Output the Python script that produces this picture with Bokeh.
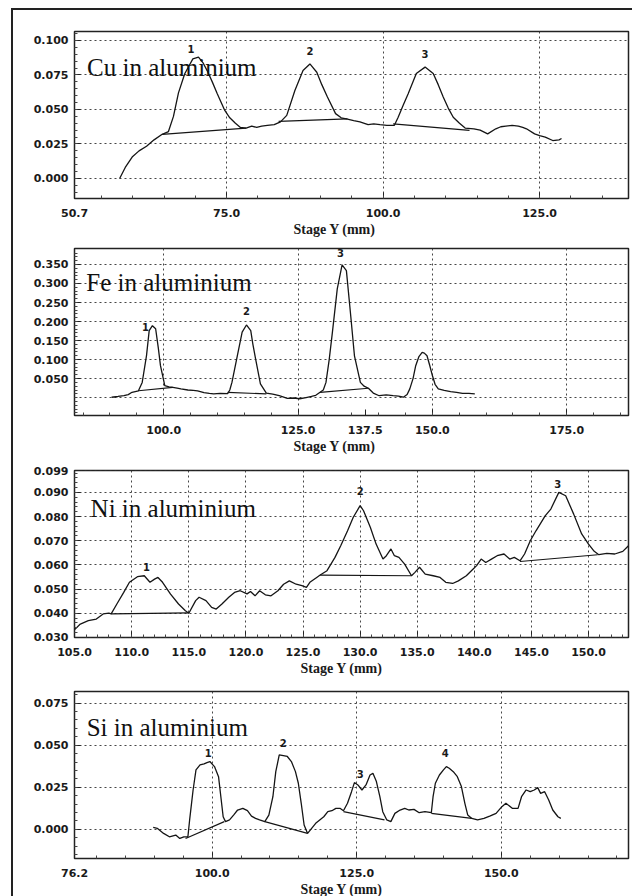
import numpy as np
from bokeh.plotting import figure
from bokeh.models import Range1d, FixedTicker, NumeralTickFormatter, Label, Title
from bokeh.layouts import column
from bokeh.embed import file_html
from bokeh.resources import INLINE
from bokeh.core.properties import value

# ---------------- data ----------------
# Cu in aluminium
cu_pts = [(57.9, 0.000), (58.8, 0.008), (59.9, 0.0155), (61.0, 0.020), (62.2, 0.0234), (63.4, 0.028),
          (64.7, 0.032), (65.7, 0.034), (66.5, 0.045), (67.3, 0.062), (68.3, 0.0759), (69.6, 0.0867),
          (70.5, 0.088), (71.2, 0.084), (71.9, 0.078), (72.7, 0.070), (73.5, 0.0614), (74.7, 0.0493),
          (75.5, 0.044), (76.4, 0.040), (77.2, 0.037), (78.1, 0.0365), (79.0, 0.038), (79.8, 0.037),
          (80.6, 0.038), (81.5, 0.0385), (82.6, 0.039), (83.6, 0.041), (84.6, 0.0457), (85.9, 0.0638),
          (87.2, 0.0783), (88.3, 0.083), (89.4, 0.077), (90.2, 0.068), (91.1, 0.059), (92.4, 0.047),
          (93.3, 0.044), (94.3, 0.043), (95.3, 0.042), (96.3, 0.0411), (97.0, 0.040), (97.6, 0.039),
          (98.5, 0.0395), (99.5, 0.039), (100.6, 0.0385), (101.8, 0.0385), (102.4, 0.0444), (103.2, 0.053),
          (104.0, 0.0614), (105.3, 0.076), (106.7, 0.0807), (108.0, 0.076), (108.8, 0.068), (109.6, 0.059),
          (110.4, 0.051), (111.2, 0.0444), (112.2, 0.040), (113.1, 0.0365), (114.5, 0.036), (115.5, 0.035),
          (116.7, 0.0323), (118.0, 0.036), (118.8, 0.0375), (119.6, 0.038), (120.6, 0.0385), (121.6, 0.038),
          (122.3, 0.037), (122.9, 0.036), (124.2, 0.0323), (125.0, 0.031), (125.9, 0.030), (127.1, 0.0275),
          (128.1, 0.028), (128.5, 0.029)]
cu_base = [((64.7, 0.032), (78.1, 0.0365)), ((83.3, 0.0414), (94.3, 0.0432)), ((101.6, 0.0395), (113.8, 0.0348))]
cu_peaks_x = [69.3, 88.3, 106.7]
cu_peaks_y = [0.094, 0.0922, 0.0905]
cu_peaks_t = ["1", "2", "3"]
cu_xticks = [50.7, 75.0, 100.0, 125.0]
cu_yticks = [0.000, 0.025, 0.050, 0.075, 0.100]

# Fe in aluminium
fe_pts = [(90.3, 0.001), (91.5, 0.003), (92.6, 0.005), (93.4, 0.008), (94.1, 0.014), (95.3, 0.018),
          (96.0, 0.040), (96.8, 0.1105), (97.3, 0.176), (97.9, 0.189), (98.5, 0.181), (99.0, 0.13),
          (99.4, 0.084), (100.2, 0.0316), (101.0, 0.028), (101.7, 0.027), (102.5, 0.025), (103.2, 0.023),
          (104.5, 0.020), (105.5, 0.019), (106.3, 0.018), (107.5, 0.013), (108.5, 0.011), (109.3, 0.0097),
          (110.5, 0.011), (111.9, 0.0105), (112.3, 0.020), (112.7, 0.040), (113.2, 0.075), (113.7, 0.110),
          (114.6, 0.172), (115.4, 0.191), (116.2, 0.176), (116.6, 0.140), (117.1, 0.102), (118.0, 0.036),
          (119.1, 0.012), (120.3, 0.009), (121.5, 0.005), (122.2, 0.002), (123.0, -0.002), (124.2, -0.001),
          (125.3, -0.003), (126.5, 0.000), (127.5, 0.003), (128.3, 0.006), (129.1, 0.014), (129.7, 0.020),
          (130.2, 0.040), (130.8, 0.100), (131.4, 0.172), (132.3, 0.286), (133.2, 0.349), (134.0, 0.334),
          (134.8, 0.216), (135.5, 0.110), (136.6, 0.040), (137.3, 0.030), (138.1, 0.0246), (139.0, 0.012),
          (140.1, 0.005), (141.4, 0.007), (142.7, 0.005), (143.7, 0.004), (144.6, 0.001), (145.3, 0.008),
          (145.8, 0.023), (146.4, 0.050), (146.9, 0.084), (147.5, 0.108), (148.1, 0.119), (148.5, 0.117),
          (149.0, 0.110), (149.5, 0.085), (150.0, 0.058), (150.5, 0.035), (151.1, 0.023), (152.2, 0.019),
          (153.4, 0.0158), (154.5, 0.014), (155.6, 0.011), (156.8, 0.011), (157.9, 0.0097)]
fe_base = [((95.3, 0.018), (101.7, 0.027)), ((111.9, 0.014), (119.1, 0.0097)), ((129.1, 0.014), (138.1, 0.0246))]
fe_peaks_x = [96.6, 115.4, 132.9]
fe_peaks_y = [0.185, 0.227, 0.381]
fe_peaks_t = ["1", "2", "3"]
fe_xticks = [100.0, 125.0, 137.5, 150.0, 175.0]
fe_xgrid = [100.0, 125.0, 150.0, 175.0]
fe_yticks = [0.050, 0.100, 0.150, 0.200, 0.250, 0.300, 0.350]
fe_ygrid = [0.000, 0.050, 0.100, 0.150, 0.200, 0.250, 0.300, 0.350]

# Ni in aluminium
ni_pts = [(105.0, 0.0332), (105.5, 0.0355), (106.2, 0.0369), (106.9, 0.0376), (107.5, 0.0397), (108.0, 0.0400),
          (108.2, 0.0397), (108.7, 0.0438), (109.3, 0.0486), (109.8, 0.0528), (110.5, 0.0551), (111.1, 0.0555),
          (111.6, 0.0528), (112.0, 0.0541), (112.3, 0.0548), (112.7, 0.0528), (113.4, 0.0479), (114.1, 0.0438),
          (114.7, 0.0410), (115.0, 0.0400), (115.6, 0.0452), (115.9, 0.0466), (116.5, 0.0452), (117.0, 0.0424),
          (117.4, 0.0417), (117.9, 0.0438), (118.5, 0.0466), (119.0, 0.0486), (119.5, 0.0493), (120.1, 0.0480),
          (120.4, 0.0490), (120.8, 0.0472), (121.2, 0.0493), (121.7, 0.0476), (122.2, 0.0472), (122.8, 0.0493),
          (123.3, 0.0520), (123.8, 0.0534), (124.4, 0.0520), (124.9, 0.0514), (125.3, 0.0507), (125.6, 0.0528),
          (126.2, 0.0548), (126.5, 0.0558), (127.1, 0.0576), (127.8, 0.0631), (128.3, 0.0679), (128.9, 0.0741),
          (129.4, 0.0797), (130.0, 0.0845), (130.3, 0.0824), (130.9, 0.0755), (131.4, 0.0686), (132.0, 0.0624),
          (132.3, 0.0638), (132.7, 0.0666), (133.0, 0.0638), (133.4, 0.0631), (133.9, 0.0603), (134.5, 0.0555),
          (134.8, 0.0569), (135.2, 0.0590), (135.7, 0.0562), (136.4, 0.0555), (137.0, 0.0548), (137.5, 0.0528),
          (138.1, 0.0523), (138.6, 0.0534), (139.3, 0.0555), (139.9, 0.0583), (140.2, 0.0597), (140.6, 0.0624),
          (141.0, 0.0610), (141.5, 0.0624), (142.0, 0.0638), (142.6, 0.0645), (143.1, 0.0624), (143.5, 0.0631),
          (144.0, 0.0617), (144.4, 0.0645), (144.9, 0.0700), (145.4, 0.0741), (146.2, 0.0803), (146.7, 0.0831),
          (147.4, 0.0900), (148.0, 0.0886), (148.7, 0.0810), (149.4, 0.0728), (150.0, 0.0686), (150.5, 0.0656),
          (150.9, 0.0642), (151.6, 0.0648), (152.3, 0.0645), (153.0, 0.0656), (153.5, 0.0679)]
ni_base = [((108.2, 0.0397), (115.0, 0.0401)), ((126.5, 0.0558), (134.5, 0.0555)), ((144.0, 0.0614), (150.8, 0.0642))]
ni_peaks_x = [111.3, 130.0, 147.3]
ni_peaks_y = [0.0592, 0.0907, 0.0934]
ni_peaks_t = ["1", "2", "3"]
ni_xticks = [105.0, 110.0, 115.0, 120.0, 125.0, 130.0, 135.0, 140.0, 145.0, 150.0]
ni_yticks = [0.030, 0.040, 0.050, 0.060, 0.070, 0.080, 0.090, 0.099]

# Si in aluminium
si_pts = [(89.8, 0.0012), (90.5, 0.0006), (91.6, -0.0024), (92.6, -0.0044), (93.7, -0.0034), (94.4, -0.0054),
          (95.1, -0.0044), (95.8, -0.0044), (96.1, 0.0056), (96.7, 0.0234), (97.2, 0.0353), (97.9, 0.0383),
          (98.6, 0.0389), (99.1, 0.0397), (99.6, 0.0403), (100.4, 0.0373), (101.1, 0.0313), (101.5, 0.0194),
          (101.9, 0.0075), (102.3, 0.0046), (103.0, 0.0056), (103.7, 0.0085), (104.4, 0.0115), (105.3, 0.0125),
          (106.1, 0.0111), (106.8, 0.0079), (107.5, 0.0065), (108.2, 0.0056), (109.1, 0.0046), (109.8, 0.0085),
          (110.5, 0.0194), (111.0, 0.0343), (111.6, 0.0442), (112.3, 0.0438), (113.0, 0.0433), (113.7, 0.0403),
          (114.4, 0.0343), (114.9, 0.0274), (115.4, 0.0155), (115.9, 0.0026), (116.5, -0.0024), (117.2, 0.0006),
          (117.9, 0.0036), (118.6, 0.0056), (119.3, 0.0075), (120.0, 0.0105), (120.7, 0.0111), (121.4, 0.0125),
          (122.1, 0.0125), (122.7, 0.0111), (123.4, 0.0155), (124.1, 0.0224), (124.6, 0.0278), (125.2, 0.0264),
          (125.9, 0.0234), (126.6, 0.0264), (127.3, 0.0323), (127.8, 0.0333), (128.4, 0.0284), (129.0, 0.0194),
          (129.5, 0.0105), (130.2, 0.0056), (130.9, 0.0046), (131.6, 0.0095), (132.5, 0.0115), (133.3, 0.0125),
          (134.0, 0.0115), (134.9, 0.0119), (135.8, 0.0099), (136.8, 0.0105), (137.9, 0.0099), (138.2, 0.0194),
          (138.6, 0.0274), (139.3, 0.0323), (140.0, 0.0353), (140.5, 0.0373), (141.0, 0.0363), (141.7, 0.0343),
          (142.4, 0.0313), (143.1, 0.0254), (143.7, 0.0155), (144.2, 0.0085), (144.9, 0.0065), (145.9, 0.0056),
          (147.0, 0.0065), (148.0, 0.0079), (149.1, 0.0095), (150.1, 0.0135), (150.8, 0.0155), (151.9, 0.0125),
          (152.9, 0.0125), (153.5, 0.0194), (154.3, 0.0234), (155.0, 0.0224), (155.7, 0.0234), (156.3, 0.0248),
          (156.8, 0.0214), (157.5, 0.0224), (158.2, 0.0175), (158.9, 0.0115), (159.8, 0.0075), (160.3, 0.0065)]
si_base = [((95.4, -0.0054), (102.1, 0.0046)), ((109.1, 0.0046), (116.5, -0.0024)),
           ((122.7, 0.0105), (129.8, 0.0056)), ((137.9, 0.0095), (144.9, 0.0065))]
si_peaks_x = [99.3, 112.3, 125.6, 140.3]
si_peaks_y = [0.0452, 0.0516, 0.0327, 0.0452]
si_peaks_t = ["1", "2", "3", "4"]
si_xticks = [76.2, 100.0, 125.0, 150.0]
si_yticks = [0.000, 0.025, 0.050, 0.075]

TXT = "#1a1a1a"


def style_axis(ax, ticker, fmt, standoff=6):
    ax.ticker = ticker
    ax.formatter = NumeralTickFormatter(format=fmt)
    ax.axis_line_color = None
    ax.major_tick_in = 6
    ax.major_tick_out = 0
    ax.minor_tick_in = 3
    ax.minor_tick_out = 0
    ax.major_tick_line_color = "#222222"
    ax.minor_tick_line_color = "#444444"
    ax.major_label_text_font = "DejaVu Sans"
    ax.major_label_text_font_style = "bold"
    ax.major_label_text_color = TXT
    ax.major_label_text_font_size = "11px"
    ax.major_label_standoff = standoff


def panel(pts, base, px, py, pt, name, name_xy, xr, yr, xticks, xgrid, xminor,
          yticks, ygrid, yminor, top, bottom, title_off):
    p = figure(frame_width=554, frame_height=167, x_range=Range1d(*xr), y_range=Range1d(*yr),
               output_backend="svg", toolbar_location=None,
               min_border_left=61, min_border_right=4, min_border_top=top, min_border_bottom=bottom,
               background_fill_color="white", border_fill_color="white",
               outline_line_color="#222222", outline_line_width=1.5)
    style_axis(p.xaxis[0], FixedTicker(ticks=xticks, minor_ticks=xminor), "0.0", standoff=10)
    style_axis(p.yaxis[0], FixedTicker(ticks=yticks, minor_ticks=yminor), "0.000", standoff=6)

    p.xgrid.ticker = FixedTicker(ticks=xgrid)
    p.ygrid.ticker = FixedTicker(ticks=ygrid)
    for g in (p.xgrid[0], p.ygrid[0]):
        g.grid_line_color = "#333333"
        g.grid_line_dash = "2 3"
        g.grid_line_width = 1
        g.grid_line_alpha = 0.9

    xs = [a for a, b in pts]
    ys = [b for a, b in pts]
    p.line(xs, ys, line_color="#151515", line_width=1.3)
    p.segment([s[0][0] for s in base], [s[0][1] for s in base],
              [s[1][0] for s in base], [s[1][1] for s in base],
              line_color="#151515", line_width=1.2)
    p.text(px, py, text=pt, text_font=value("DejaVu Sans"), text_font_style="bold",
           text_font_size="10px", text_align="center", text_baseline="middle", text_color=TXT)
    p.add_layout(Label(x=name_xy[0], y=name_xy[1], text=name, text_font="Liberation Serif",
                       text_font_size="25px", text_baseline="alphabetic", text_color="#111111"))
    p.add_layout(Title(text="Stage Y (mm)", align="left", offset=title_off, text_font="Liberation Serif",
                       text_font_size="14px", text_font_style="bold", text_color=TXT, standoff=0), "below")
    return p


p1 = panel(cu_pts, cu_base, cu_peaks_x, cu_peaks_y, cu_peaks_t, "Cu in aluminium", (52.7, 0.0804),
           (50.69, 139.2), (-0.0145, 0.1065), cu_xticks, [75.0, 100.0, 125.0], list(np.arange(55, 140, 5.0)),
           cu_yticks, cu_yticks, list(np.arange(-0.010, 0.106, 0.005)), 21, 40, 219)
p2 = panel(fe_pts, fe_base, fe_peaks_x, fe_peaks_y, fe_peaks_t, "Fe in aluminium", (85.6, 0.303),
           (83.4, 186.5), (-0.047, 0.392), fe_xticks, fe_xgrid, list(np.arange(85, 186, 5.0)),
           fe_yticks, fe_ygrid, list(np.arange(-0.04, 0.39, 0.01)), 10, 40, 219)
p3 = panel(ni_pts, ni_base, ni_peaks_x, ni_peaks_y, ni_peaks_t, "Ni in aluminium", (106.4, 0.0834),
           (104.99, 153.5), (0.02995, 0.09905), ni_xticks, ni_xticks, list(np.arange(106, 154, 1.0)),
           ni_yticks, ni_yticks, list(np.arange(0.032, 0.099, 0.002)), 15, 40, 226)
p4 = panel(si_pts, si_base, si_peaks_x, si_peaks_y, si_peaks_t, "Si in aluminium", (78.3, 0.0605),
           (76.19, 172.0), (-0.0173, 0.0819), si_xticks, [100.0, 125.0, 150.0], list(np.arange(80, 172, 5.0)),
           si_yticks, si_yticks, list(np.arange(-0.015, 0.081, 0.005)), 14, 30, 226)

layout = column(p1, p2, p3, p4, spacing=0, margin=(8, 0, 0, 11),
                styles={"border-left": "2px solid #222", "border-top": "2px solid #222"})

open("out.html", "w").write(file_html(layout, INLINE))
